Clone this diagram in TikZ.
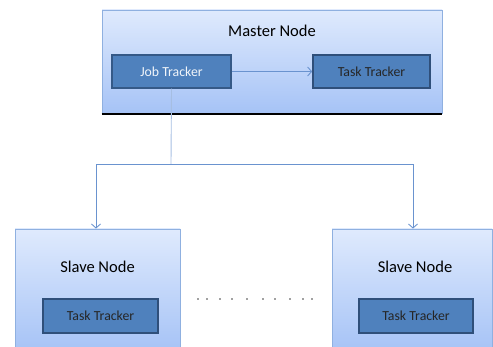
\documentclass[tikz,border=0pt]{standalone}
\usepackage{fontspec}
\setmainfont{Carlito}
\usetikzlibrary{arrows.meta}
\definecolor{paleTop}{HTML}{DFEAFD}
\definecolor{paleBot}{HTML}{A6C3F6}
\definecolor{paleEdge}{HTML}{8FB0E0}
\definecolor{trackFill}{HTML}{4F81BD}
\definecolor{trackEdge}{HTML}{2F4F7A}
\definecolor{wire}{HTML}{6A93CF}
\tikzset{
  outerbox/.style={draw=paleEdge, line width=0.8pt, top color=paleTop, bottom color=paleBot, inner sep=0pt},
  trackbox/.style={draw=trackEdge, line width=1.6pt, fill=trackFill, inner sep=0pt, font=\fontsize{13.8}{15}\selectfont},
  title/.style={font=\fontsize{16.5}{19}\selectfont, text=black},
  wireline/.style={draw=wire, line width=0.9pt},
  tip/.style={-{Straight Barb[length=4pt,width=9pt,line width=0.9pt]}}
}
\begin{document}
\begin{tikzpicture}[x=1pt,y=-1pt]
\useasboundingbox (0,0) rectangle (493,347);
\clip (0,0) rectangle (493,347);
% master node frame with its dark bottom edge
\node[outerbox, minimum width=340pt, minimum height=103pt] (master) at (272,61.5) {};
\draw[black, line width=1.4pt] ([yshift=-0.8pt]master.south west) -- ([yshift=-0.8pt]master.south east);
\node[title] (mtitle) at (272,31) {Master Node};
\node[trackbox, draw=trackEdge!80!trackFill, line width=1.2pt, text=white!92!trackFill, minimum width=119pt, minimum height=33pt] (jt) at (171.5,71.5) {Job Tracker};
\node[trackbox, text=black!85, minimum width=117pt, minimum height=33pt] (mtt) at (371.5,71.5) {Task Tracker};
\draw[wireline, tip] (jt.east) -- (mtt.west);
% slave nodes
\node[outerbox, minimum width=165pt, minimum height=122pt] (s1) at (97.5,290) {};
\node[title] (s1title) at (97.5,267) {Slave Node};
\node[trackbox, text=black!85, minimum width=115pt, minimum height=34pt] (s1tt) at (100.5,316) {Task Tracker};
\node[outerbox, minimum width=160pt, minimum height=122pt] (s2) at (412,290) {};
\node[title] (s2title) at (415,267) {Slave Node};
\node[trackbox, text=black!85, minimum width=114pt, minimum height=34pt] (s2tt) at (416,316) {Task Tracker};
% fan-out from the job tracker
\coordinate (split) at (171,164);
\draw[wireline, draw=wire!60] (jt.south) -- (split);
\draw[wireline, tip] (split) -| ([xshift=-1.5pt]s1.north);
\draw[wireline, tip] (split) -| ([xshift=1pt]s2.north);
% ellipsis between the slaves
\foreach \px in {198,207,220,232,247,263,275,290,303,312}
  \fill[black!75] (\px,299) circle (0.8);
\end{tikzpicture}
\end{document}
